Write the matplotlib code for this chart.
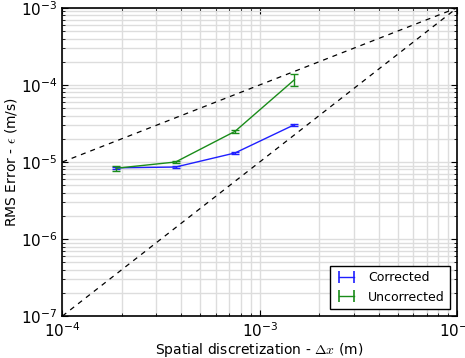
import numpy as np
import matplotlib.pyplot as plt
from matplotlib.lines import Line2D

# grid spacings and RMS errors
dx = [1.875e-4, 3.75e-4, 7.5e-4, 1.5e-3]
err_corrected = [8.4e-6, 8.6e-6, 1.31e-5, 3.05e-5]
std_corrected = [0.3e-6, 0.3e-6, 0.4e-6, 0.8e-6]
err_uncorrected = [8.3e-6, 1.0e-5, 2.5e-5, 1.17e-4]
std_uncorrected = [0.7e-6, 0.4e-6, 1.0e-6, 2.1e-5]

# reference slopes (first and second order)
ref_x = [1e-4, 1e-2]
ref_first = [1e-5, 1e-3]
ref_second = [1e-7, 1e-3]

blue = '#1f1fff'
green = '#1a8c1a'

fig, ax = plt.subplots(figsize=(4.65, 3.58), dpi=100)
fig.subplots_adjust(left=0.134, right=0.983, top=0.978, bottom=0.117)

ax.plot(ref_x, ref_first, 'k--', lw=0.9, dashes=(4, 4))
ax.plot(ref_x, ref_second, 'k--', lw=0.9, dashes=(4, 4))

ax.errorbar(dx, err_corrected, yerr=std_corrected, color=blue, lw=1, capsize=3)
ax.errorbar(dx, err_uncorrected, yerr=std_uncorrected, color=green, lw=1, capsize=3)

ax.set_xscale('log')
ax.set_yscale('log')
ax.set_xlim(1e-4, 1e-2)
ax.set_ylim(1e-7, 1e-3)

ax.grid(True, which='both', color='#dddddd', lw=1)
ax.set_axisbelow(True)
ax.tick_params(which='both', direction='in', top=True, right=True)
ax.tick_params(which='major', length=4, labelsize=11)
ax.tick_params(which='minor', length=2)
for s in ax.spines.values():
    s.set_linewidth(1.2)

ax.set_xlabel(r'Spatial discretization - $\Delta x$ (m)', fontsize=10,
              labelpad=1, math_fontfamily='cm')
ax.set_ylabel(r'RMS Error - $\epsilon$ (m/s)', fontsize=10,
              labelpad=1, math_fontfamily='cm')

# legend handles drawn as horizontal error bars
handles = [Line2D([], [], color=blue, lw=1, marker='|', markersize=9, markeredgewidth=1.2),
           Line2D([], [], color=green, lw=1, marker='|', markersize=9, markeredgewidth=1.2)]
leg = ax.legend(handles, ['Corrected', 'Uncorrected'], loc='lower right', fontsize=9,
                fancybox=False, framealpha=1, edgecolor='black', handlelength=1.8,
                numpoints=2, borderaxespad=0.6)
leg.get_frame().set_linewidth(1)

plt.savefig('out.png')
